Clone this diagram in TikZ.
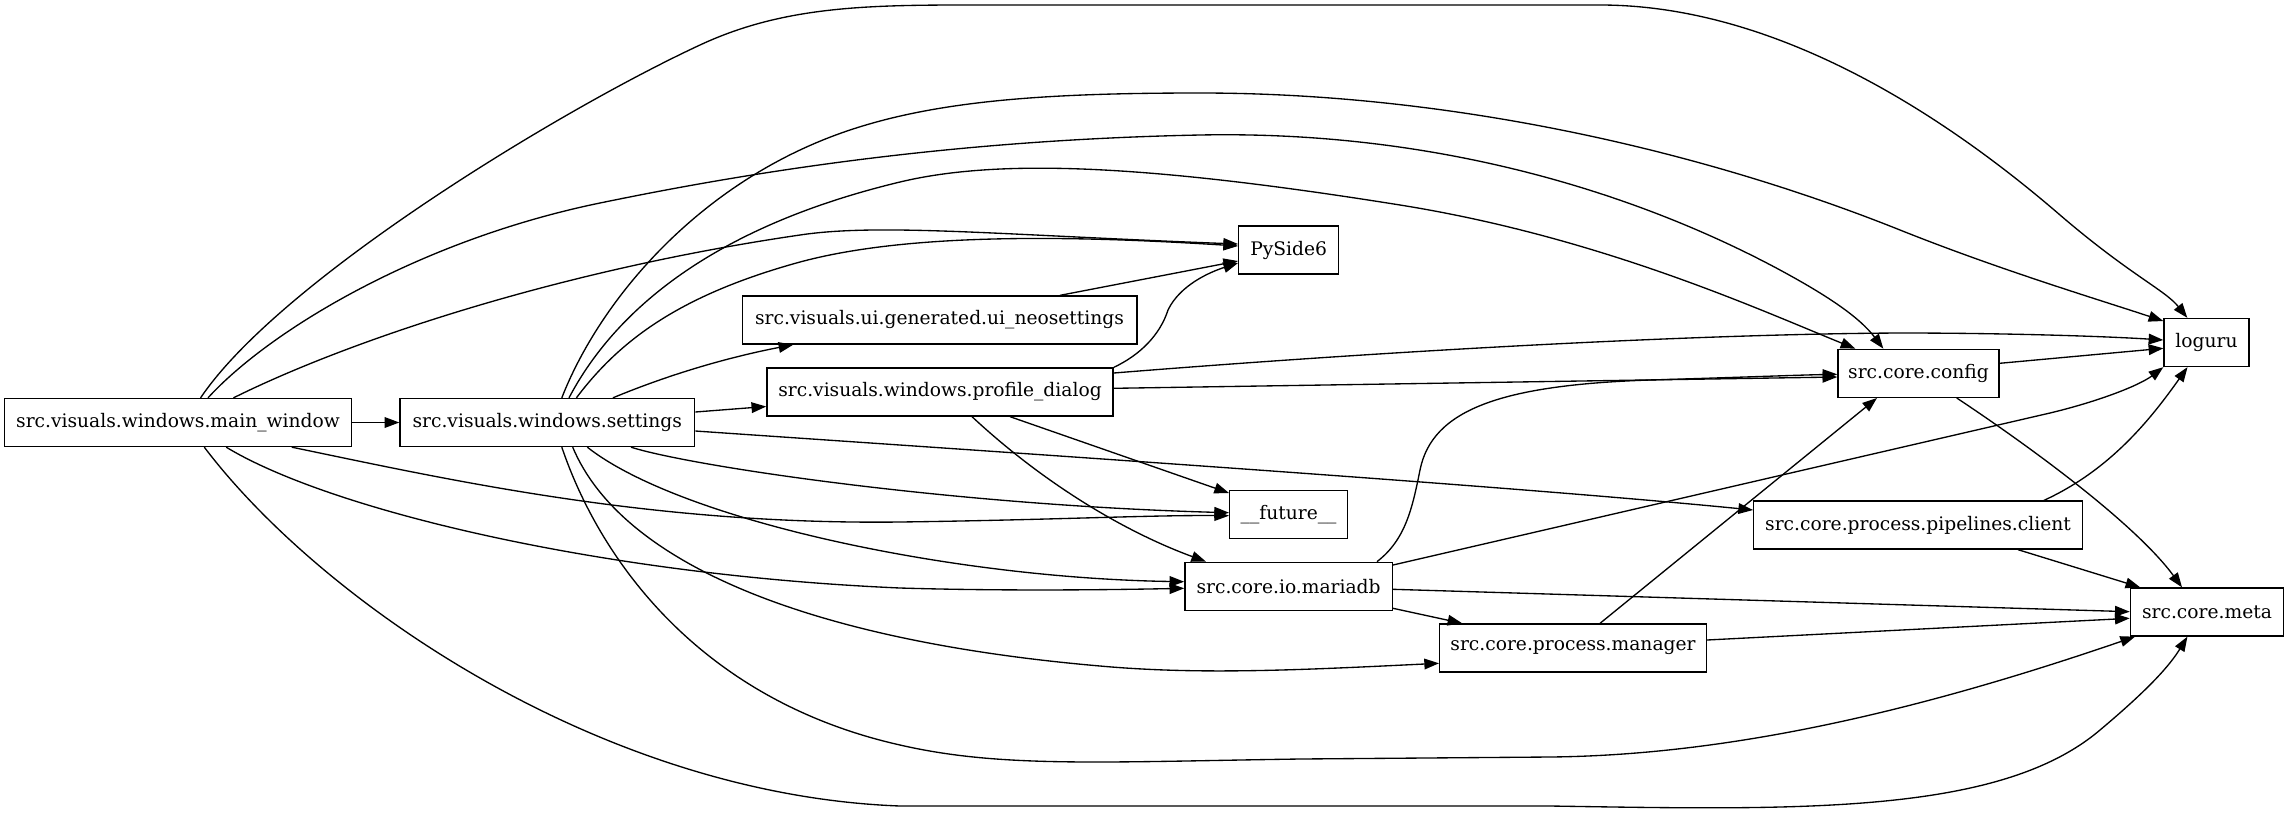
\documentclass[tikz,border=0pt]{standalone}
\usepackage{fontspec}
\setmainfont{DejaVu Serif}
\usetikzlibrary{arrows.meta,calc}
\begin{document}
\begin{tikzpicture}[x=0.75pt,y=-0.75pt,
  mod/.style={draw,line width=1pt,inner sep=0pt,minimum height=36pt,font=\fontsize{14pt}{16pt}\selectfont},
  dep/.style={line width=1pt,-{Triangle[length=11pt,width=8pt]}}]
\useasboundingbox (0,0) rectangle (2288,822);
% nodes
\node[mod,minimum width=260pt]   (mw)  at (178,422.5)   {src.visuals.windows.main\_window};
\node[mod,minimum width=221pt]   (st)  at (547.3,422.5) {src.visuals.windows.settings};
\node[mod,minimum width=296pt]   (neo) at (939.5,320)   {src.visuals.ui.generated.ui\_neosettings};
\node[mod,minimum width=259.7pt] (pd)  at (940,392)     {src.visuals.windows.profile\_dialog};
\node[mod,minimum width=75pt]    (py)  at (1288.7,250)  {PySide6};
\node[mod,minimum width=88.4pt]  (fu)  at (1288.6,514.7) {\_\_future\_\_};
\node[mod,minimum width=155.6pt] (ma)  at (1288.6,586.3) {src.core.io.mariadb};
\node[mod,minimum width=200pt]   (pm)  at (1573,648)    {src.core.process.manager};
\node[mod,minimum width=120.8pt] (cf)  at (1918.5,373.3) {src.core.config};
\node[mod,minimum width=246.4pt] (pc)  at (1918,525)    {src.core.process.pipelines.client};
\node[mod,minimum width=63.8pt]  (lg)  at (2206.5,342.5) {loguru};
\node[mod,minimum width=115pt]   (me)  at (2207,612)    {src.core.meta};
% edges from main_window
\draw[dep] (mw.east) -- (st.west);
\draw[dep] ($(mw.north)+(22.6,0)$) .. controls (280,280) and (560,110) .. (700,45) .. controls (790,3) and (880,5) .. (1000,5) -- (1600,5) .. controls (1780,5) and (1950,120) .. (2060,215) .. controls (2130,275) and (2165,290) .. ($(lg.north)+(-19.2,0)$);
\draw[dep] ($(mw.north)+(30,0)$) .. controls (270,330) and (420,240) .. (600,203) .. controls (750,172) and (950,140) .. (1200,135) .. controls (1450,130) and (1650,200) .. (1780,270) .. controls (1830,297) and (1860,318) .. ($(cf.north)+(-35.2,0)$);
\draw[dep] ($(mw.north)+(55.5,0)$) .. controls (350,340) and (560,270) .. (800,235) .. controls (880,223) and (1000,235) .. ($(py.west)+(0,-6)$);
\draw[dep] ($(mw.south)+(113.8,0)$) .. controls (450,480) and (650,525) .. (900,522) .. controls (1050,520) and (1150,515) .. ($(fu.west)+(0,1)$);
\draw[dep] ($(mw.south)+(48.2,0)$) .. controls (330,510) and (600,575) .. (900,588) .. controls (1000,591) and (1100,590) .. ($(ma.west)+(0,2)$);
\draw[dep] ($(mw.south)+(26.3,0)$) .. controls (320,600) and (600,795) .. (900,806) -- (1550,806) .. controls (1800,810) and (2000,815) .. (2100,730) .. controls (2150,688) and (2170,665) .. ($(me.south)+(-19.6,0)$);
% edges from settings
\draw[dep] ($(st.north)+(29.1,0)$) .. controls (620,340) and (680,295) .. (800,262) .. controls (900,235) and (1050,234) .. ($(py.west)+(0,-4)$);
\draw[dep] ($(st.north)+(14.5,0)$) .. controls (600,300) and (700,180) .. (850,130) .. controls (940,100) and (1050,93) .. (1200,93) .. controls (1450,93) and (1700,150) .. (1900,230) .. controls (2000,270) and (2100,300) .. ($(lg.north west)+(0,3.2)$);
\draw[dep] ($(st.north)+(21.7,0)$) .. controls (610,320) and (700,230) .. (900,182) .. controls (1000,158) and (1150,165) .. (1400,205) .. controls (1600,237) and (1760,310) .. ($(cf.north)+(-63.2,0)$);
\draw[dep] ($(st.north)+(65.6,0)$) .. controls (680,370) and (740,355) .. ($(neo.south)+(-146.2,0)$);
\draw[dep] ($(st.east)+(0,-10.5)$) -- ($(pd.west)+(0,14.5)$);
\draw[dep] ($(st.east)+(0,8.5)$) .. controls (1000,452) and (1500,485) .. ($(pc.west)+(0,-15)$);
\draw[dep] ($(st.south)+(83.7,0)$) .. controls (690,466) and (950,505) .. ($(fu.west)+(0,-2)$);
\draw[dep] ($(st.south)+(40,0)$) .. controls (680,520) and (950,578) .. ($(ma.west)+(0,-4.6)$);
\draw[dep] ($(st.south)+(25.4,0)$) .. controls (620,560) and (800,640) .. (1100,666) .. controls (1200,675) and (1300,670) .. ($(pm.west)+(0,15.3)$);
\draw[dep] ($(st.south)+(14.5,0)$) .. controls (600,560) and (700,700) .. (900,745) .. controls (1000,768) and (1100,762) .. (1300,759) -- (1550,757) .. controls (1750,755) and (1950,700) .. ($(me.south)+(-72,0)$);
% edges from profile_dialog
\draw[dep] (pd.north east) .. controls (1140,355) and (1160,335) .. (1168,310) .. controls (1180,285) and (1210,272) .. ($(py.west)+(0,13)$);
\draw[dep] ($(pd.east)+(0,-19)$) .. controls (1400,350) and (1700,334) .. (1900,333) .. controls (2000,333) and (2100,336) .. ($(lg.west)+(0,-2.5)$);
\draw[dep] ($(pd.east)+(0,-3.7)$) -- ($(cf.west)+(0,3.7)$);
\draw[dep] ($(pd.south)+(70,0)$) -- ($(fu.west)+(0,-21.7)$);
\draw[dep] ($(pd.south)+(32,0)$) .. controls (1040,480) and (1120,530) .. ($(ma.north)+(-82.6,0)$);
% neosettings
\draw[dep] ($(neo.north)+(120.5,0)$) -- ($(py.west)+(0,11)$);
% mariadb
\draw[dep] ($(ma.north)+(88.4,0)$) .. controls (1405,540) and (1412,510) .. (1420,470) .. controls (1432,410) and (1500,385) .. (1650,380) .. controls (1750,377) and (1800,375) .. ($(cf.west)+(0,1)$);
\draw[dep] ($(ma.east)+(0,-21.3)$) -- (2050,413) .. controls (2100,401) and (2140,385) .. (lg.south west);
\draw[dep] ($(ma.east)+(0,3)$) -- ($(me.west)+(0,-0.3)$);
\draw[dep] ($(ma.east)+(0,22)$) -- ($(pm.north)+(-110.7,0)$);
% manager
\draw[dep] ($(pm.north)+(27,0)$) -- ($(cf.south)+(-41.5,0)$);
\draw[dep] ($(pm.east)+(0,-8)$) -- ($(me.west)+(0,6.3)$);
% config
\draw[dep] ($(cf.east)+(0,-10)$) -- ($(lg.west)+(0,5.8)$);
\draw[dep] ($(cf.south)+(38.2,0)$) .. controls (2050,460) and (2140,530) .. ($(me.north)+(-25,0)$);
% pipelines client
\draw[dep] ($(pc.north)+(126,0)$) .. controls (2110,470) and (2150,420) .. ($(lg.south)+(-19,0)$);
\draw[dep] ($(pc.south)+(100,0)$) -- ($(me.north)+(-66.8,0)$);
\end{tikzpicture}
\end{document}
